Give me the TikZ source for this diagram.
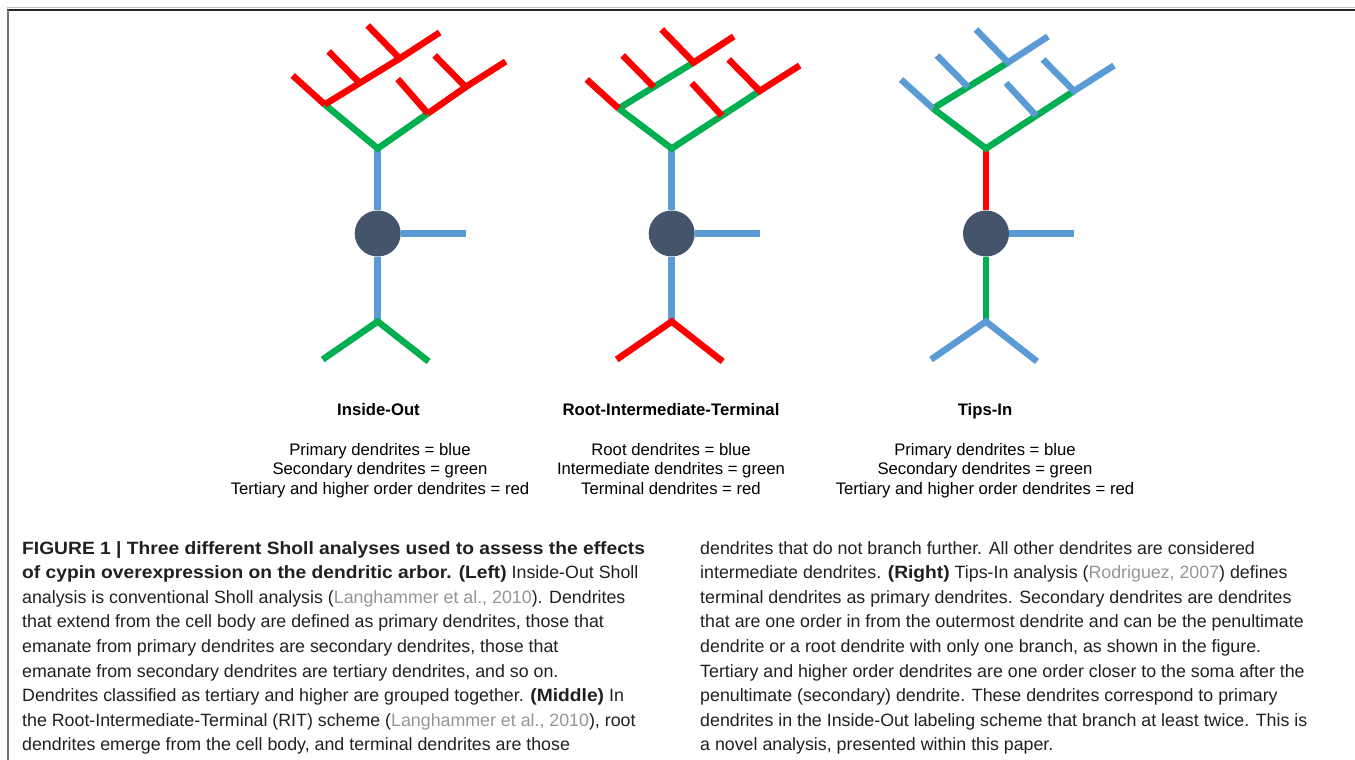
\documentclass[tikz,border=0pt]{standalone}
\usepackage{fontspec}
\setmainfont{Liberation Sans}
\newfontface\capbold{Liberation Sans Bold}[FakeStretch=1.08]
\usetikzlibrary{positioning,calc}
\definecolor{dblue}{HTML}{5B9BD5}
\definecolor{dgreen}{HTML}{00B050}
\definecolor{dred}{HTML}{FF0000}
\definecolor{somagray}{HTML}{44546A}
\definecolor{citegray}{HTML}{959595}
\definecolor{captext}{HTML}{231F20}
\newcommand{\refcite}[1]{{\color{citegray}#1}}
\newcommand{\capb}[1]{{\capbold #1}}

\begin{document}
\begin{tikzpicture}[x=1pt, y=-1pt,
  dend/.style={line width=6.5pt, line cap=butt},
  soma/.style={circle, fill=somagray, minimum size=46pt, inner sep=0pt},
  ttl/.style={anchor=base, font=\fontsize{16.7}{19.5}\selectfont\bfseries},
  key/.style={align=center, anchor=north, inner sep=0pt, font=\fontsize{16.7}{19.5}\selectfont},
  captionbox/.style={align=left, anchor=north west, inner sep=0pt, text=captext, font=\fontsize{17.8}{24.6}\selectfont}
]
  \useasboundingbox (0,0) rectangle (1355,760);

  % frame
  \draw[line width=1pt, black!25] (7,8) -- (1355,8);
  \draw[line width=2pt, black!85] (7,10) -- (1355,10);
  \draw[line width=2pt, black!55] (8,10) -- (8,760);

  % three trees: x / crown offset / trunk / stem / fork / inner / mid / tips
  \foreach \sx/\cy/\ctr/\cst/\cfk/\cin/\cmd/\ctp in {
      377.7/4/dblue/dblue/dgreen/dgreen/dred/dred,
      671.7/0/dblue/dblue/dred/dgreen/dgreen/dred,
      986/0/dred/dgreen/dblue/dgreen/dgreen/dblue}{
    \begin{scope}[shift={(\sx,233.5)}]
      \node[soma] (soma) at (0,0) {};
      \coordinate (top) at (0,-85);
      \coordinate (side) at (88,0);
      \coordinate (bot) at (0,88);
      \coordinate (bl) at (-55,126);
      \coordinate (br) at (51,128);
      \begin{scope}[yshift=\cy]
        \coordinate (la) at (-53,-125);
        \coordinate (lat) at (-85,-154);
        \coordinate (lc) at (22,-171);
        \coordinate (lbt) at (-49,-178);
        \coordinate (lca) at (62,-197);
        \coordinate (lcb) at (-10,-204);
        \coordinate (rat) at (20,-150.5);
        \coordinate (rb) at (88,-142.5);
        \coordinate (rba) at (128,-168);
        \coordinate (rbb) at (57,-174);
      \end{scope}
      \coordinate (lb) at ($(la)!0.467!(lc)$);
      \coordinate (ra) at ($(top)!0.57!(rb)$);
      \draw[dend, \ctr] (soma) -- (top);
      \draw[dend, dblue] (soma) -- (side);
      \draw[dend, \cst] (soma) -- (bot);
      \draw[dend, \cfk] (bl) -- (bot) -- (br);
      \draw[dend, \cin] (la) -- (top) -- (ra);
      \draw[dend, \cmd] (la) -- (lb) -- (lc);
      \draw[dend, \cmd] (ra) -- (rb);
      \draw[dend, \ctp] (lat) -- (la) (lbt) -- (lb) (lcb) -- (lc) -- (lca)
        (rat) -- (ra) (rbb) -- (rb) -- (rba);
    \end{scope}
  }

  % scheme names and colour keys
  \node[ttl] (io) at (378.5,415) {Inside-Out};
  \node[ttl] (rit) at (671,415) {Root-Intermediate-Terminal};
  \node[ttl] (ti) at (985,415) {Tips-In};
  \node[key] (iokey) at (380,443) {Primary dendrites = blue\\Secondary dendrites = green\\Tertiary and higher order dendrites = red};
  \node[key] (ritkey) at (671,443) {Root dendrites = blue\\Intermediate dendrites = green\\Terminal dendrites = red};
  \node[key] (tikey) at (985,443) {Primary dendrites = blue\\Secondary dendrites = green\\Tertiary and higher order dendrites = red};

  % caption
  \node[captionbox] (capl) at (22,541) {\capb{FIGURE 1 | Three different Sholl analyses used to assess the effects}\\
    \capb{of cypin overexpression on the dendritic arbor. (Left)} Inside-Out Sholl\\
    analysis is conventional Sholl analysis (\refcite{Langhammer et al., 2010}). Dendrites\\
    that extend from the cell body are defined as primary dendrites, those that\\
    emanate from primary dendrites are secondary dendrites, those that\\
    emanate from secondary dendrites are tertiary dendrites, and so on.\\
    Dendrites classified as tertiary and higher are grouped together. \capb{(Middle)} In\\
    the Root-Intermediate-Terminal (RIT) scheme (\refcite{Langhammer et al., 2010}), root\\
    dendrites emerge from the cell body, and terminal dendrites are those};
  \node[captionbox] (capr) at (700,541) {dendrites that do not branch further. All other dendrites are considered\\
    intermediate dendrites. \capb{(Right)} Tips-In analysis (\refcite{Rodriguez, 2007}) defines\\
    terminal dendrites as primary dendrites. Secondary dendrites are dendrites\\
    that are one order in from the outermost dendrite and can be the penultimate\\
    dendrite or a root dendrite with only one branch, as shown in the figure.\\
    Tertiary and higher order dendrites are one order closer to the soma after the\\
    penultimate (secondary) dendrite. These dendrites correspond to primary\\
    dendrites in the Inside-Out labeling scheme that branch at least twice. This is\\
    a novel analysis, presented within this paper.};
\end{tikzpicture}
\end{document}
